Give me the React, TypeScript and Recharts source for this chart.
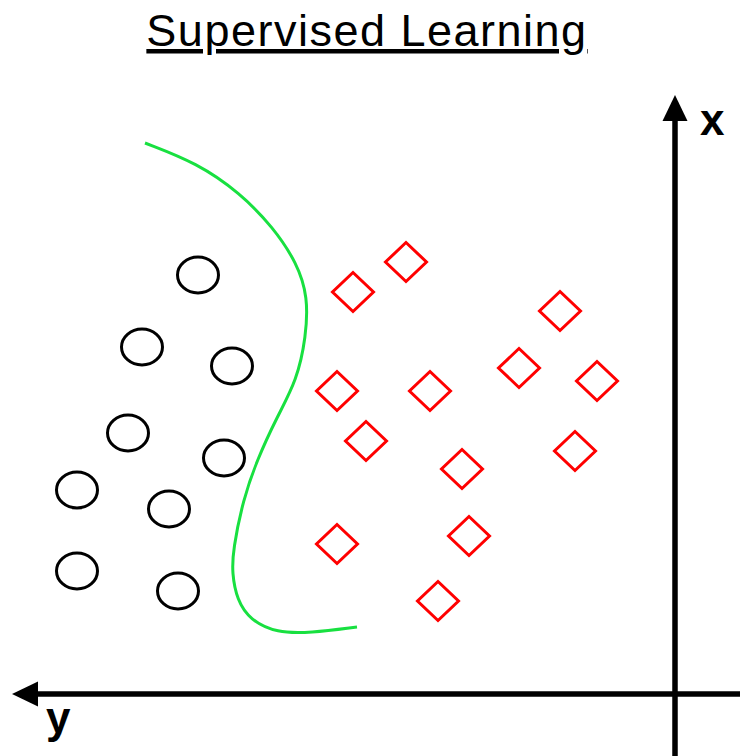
import React from 'react';
import { ScatterChart, Scatter, XAxis, YAxis, ReferenceLine } from 'recharts';

// Horizontal axis value ("y", grows to the left), vertical axis value ("x", grows upward)
const circleY = [477, 533, 443, 547, 451, 598, 506, 598, 497];
const circleX = [419, 347, 328, 261, 236, 204, 185, 123, 103];

const diamondY = [322, 269, 115, 156, 78, 338, 245, 309, 213, 100, 338, 206, 237];
const diamondX = [402, 432, 383, 326, 313, 303, 303, 253, 225, 243, 150, 158, 93];

const boundaryY = [530, 478, 435, 402, 378, 367, 369, 378, 398, 418, 432, 442, 443, 438, 425, 398, 365, 318];
const boundaryX = [551, 531, 501, 467, 431, 397, 357, 314, 277, 234, 194, 144, 121, 94, 74, 61, 61, 67];

const titleText = 'Supervised Learning';
const xLabel = 'x';
const yLabel = 'y';

const circleData = circleY.map((h, i) => ({ h, v: circleX[i] }));
const diamondData = diamondY.map((h, i) => ({ h, v: diamondX[i] }));
const boundaryData = boundaryY.map((h, i) => ({ h, v: boundaryX[i] }));

const W = 740;
const H = 756;

const CircleShape = (props: any) => {
  const { cx, cy } = props;
  if (cx == null || cy == null) return <g />;
  return <ellipse cx={cx} cy={cy} rx={20.5} ry={18} fill="none" stroke="#000" strokeWidth={3} />;
};

const DiamondShape = (props: any) => {
  const { cx, cy } = props;
  if (cx == null || cy == null) return <g />;
  const a = 20.5;
  const b = 19.5;
  const d = `M${cx},${cy - b} L${cx + a},${cy} L${cx},${cy + b} L${cx - a},${cy} Z`;
  return <path d={d} fill="none" stroke="#ff0000" strokeWidth={3} strokeLinejoin="miter" />;
};

const EmptyShape = () => <g />;

const makeArrow = (label: string, ldx: number, ldy: number) => (props: any) => {
  const { x1, y1, x2, y2 } = props;
  if ([x1, y1, x2, y2].some((n) => n == null || isNaN(n))) return <g />;
  const dx = x2 - x1;
  const dy = y2 - y1;
  const len = Math.sqrt(dx * dx + dy * dy);
  const ux = dx / len;
  const uy = dy / len;
  const headLen = 26;
  const headHalf = 12.5;
  const bx = x2 - ux * headLen;
  const by = y2 - uy * headLen;
  const px = -uy;
  const py = ux;
  const pts = `${x2},${y2} ${bx + px * headHalf},${by + py * headHalf} ${bx - px * headHalf},${by - py * headHalf}`;
  return (
    <g>
      <line x1={x1} y1={y1} x2={bx + ux * 2} y2={by + uy * 2} stroke="#000" strokeWidth={5.5} />
      <polygon points={pts} fill="#000" />
      <text
        x={x2 + ldx}
        y={y2 + ldy}
        fontFamily="'Liberation Sans', Arial, sans-serif"
        fontWeight="bold"
        fontSize={44}
        fill="#000"
      >
        {label}
      </text>
    </g>
  );
};

const VerticalArrow = makeArrow(xLabel, 25, 40);
const HorizontalArrow = makeArrow(yLabel, 34, 39);

export default function App() {
  return (
    <div style={{ position: 'absolute', left: 0, top: 0, width: W, height: H, background: '#fff' }}>
      <ScatterChart width={W} height={H} margin={{ top: 0, right: 0, bottom: 0, left: 0 }}>
        <XAxis type="number" dataKey="h" domain={[-65, 675]} reversed hide allowDataOverflow />
        <YAxis type="number" dataKey="v" domain={[-62, 694]} hide allowDataOverflow />
        <ReferenceLine
          segment={[
            { x: -65, y: 0 },
            { x: 663, y: 0 },
          ]}
          shape={HorizontalArrow}
          ifOverflow="visible"
        />
        <ReferenceLine
          segment={[
            { x: 0, y: -62 },
            { x: 0, y: 599 },
          ]}
          shape={VerticalArrow}
          ifOverflow="visible"
        />
        <Scatter
          data={boundaryData}
          line={{ stroke: '#18e040', strokeWidth: 3 }}
          lineType="joint"
          lineJointType="basis"
          shape={EmptyShape}
          isAnimationActive={false}
          legendType="none"
        />
        <Scatter data={circleData} shape={CircleShape} isAnimationActive={false} legendType="none" />
        <Scatter data={diamondData} shape={DiamondShape} isAnimationActive={false} legendType="none" />
      </ScatterChart>
      <svg width={W} height={70} style={{ position: 'absolute', left: 0, top: 0 }}>
        <text
          x={367}
          y={46}
          textAnchor="middle"
          fontFamily="'Liberation Sans', Arial, sans-serif"
          fontSize={45}
          letterSpacing={1.5}
          fill="#000"
          style={{ textDecoration: 'underline' }}
        >
          {titleText}
        </text>
      </svg>
    </div>
  );
}
